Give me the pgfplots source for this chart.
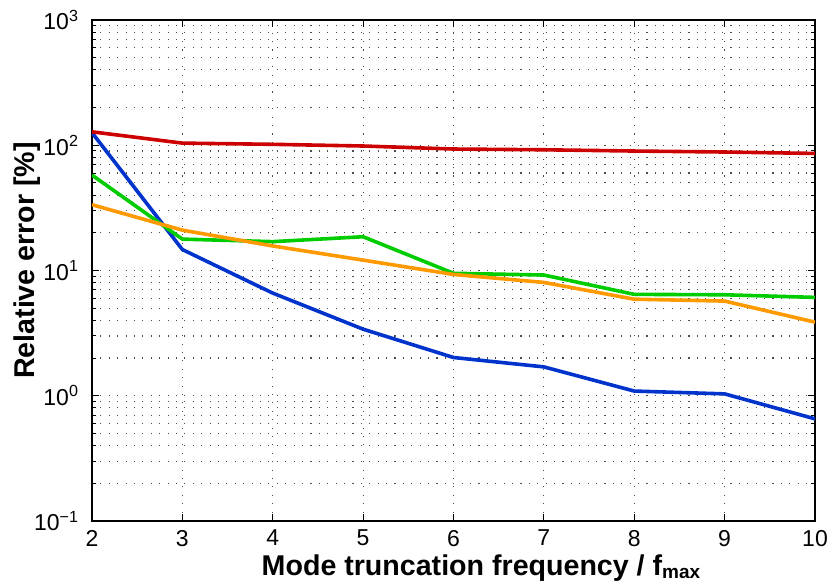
\documentclass[border=0pt]{standalone}
\usepackage{fontspec}
\setmainfont{Liberation Sans}
\usepackage{pgfplots}
\pgfplotsset{compat=1.18}

\definecolor{cred}{RGB}{204,0,0}
\definecolor{cgreen}{RGB}{0,204,0}
\definecolor{corange}{RGB}{255,153,0}
\definecolor{cblue}{RGB}{0,51,204}

\begin{document}
\begin{tikzpicture}
\useasboundingbox (-46bp,-33bp) rectangle (368bp,260.5bp);
\begin{axis}[
    scale only axis,
    width=361.5bp, height=250.5bp,
    ymode=log,
    xmin=2, xmax=10,
    ymin=0.1, ymax=1000,
    xtick={2,3,4,5,6,7,8,9,10},
    ytick={0.1,1,10,100,1000},
    yticklabels={10\textsuperscript{−1},10\textsuperscript{0},10\textsuperscript{1},10\textsuperscript{2},10\textsuperscript{3}},
    /pgf/number format/assume math mode=true,
    tick label style={font=\fontsize{11.5bp}{13bp}\selectfont},
    yticklabel style={xshift=-3bp},
    xticklabel style={yshift=-1bp},
    xlabel={\bfseries Mode truncation frequency / f{\fontsize{9.5bp}{10bp}\selectfont\raisebox{-1.5bp}{max}}},
    ylabel={\bfseries Relative error [\%]},
    label style={font=\fontsize{14.3bp}{16bp}\selectfont},
    xlabel style={at={([yshift=-23.5bp]axis description cs:0.538,0)}, anchor=center},
    ylabel style={at={([xshift=-32.5bp]axis description cs:0,0.52)}, anchor=center},
    xmajorgrids, ymajorgrids, yminorgrids,
    grid style={black!70, line width=0.55bp, dash pattern=on 0.55bp off 3.65bp},
    minor grid style={black!70, line width=0.55bp, dash pattern=on 0.55bp off 3.65bp},
    axis line style={line width=0.7bp},
    tick style={black, line width=0.5bp},
    tick align=inside,
    major tick length=3.5bp,
    minor tick length=2bp,
    every axis plot/.append style={line width=1.8bp, line join=round},
]
\addplot[cblue] coordinates {
    (2,126)(3,14.7)(4,6.6)(5,3.4)(6,2.02)(7,1.70)(8,1.09)(9,1.035)(10,0.654)
};
\addplot[cgreen] coordinates {
    (2,57.8)(3,17.8)(4,17.0)(5,18.6)(6,9.5)(7,9.2)(8,6.45)(9,6.4)(10,6.1)
};
\addplot[corange] coordinates {
    (2,33.5)(3,21.0)(4,15.7)(5,12.1)(6,9.3)(7,8.03)(8,5.9)(9,5.7)(10,3.87)
};
\addplot[cred] coordinates {
    (2,128)(3,104)(4,101.7)(5,98.6)(6,93.3)(7,92)(8,89.9)(9,88.3)(10,86)
};
\end{axis}
\end{tikzpicture}
\end{document}
